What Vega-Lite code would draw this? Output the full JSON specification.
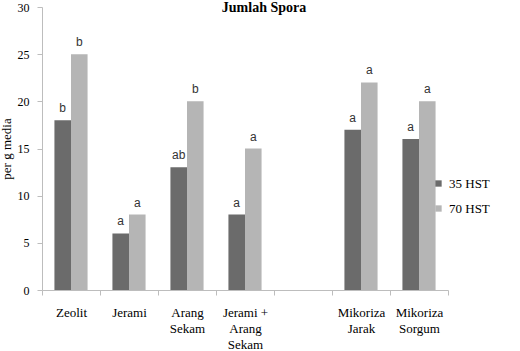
{
  "$schema": "https://vega.github.io/schema/vega-lite/v6.json",
  "width": 406,
  "height": 283,
  "autosize": {"type": "none"},
  "padding": {"left": 42, "top": 7, "right": 72, "bottom": 61},
  "background": "white",
  "config": {"view": {"stroke": null}, "font": "Liberation Serif, Times New Roman, serif"},
  "title": {"text": "Jumlah Spora", "font": "Liberation Serif, Times New Roman, serif", "fontSize": 14, "fontWeight": "bold", "anchor": "middle", "dx": 19, "offset": -14, "color": "#000"},
  "data": {"values": [
    {"k": "Zeolit", "s": "35 HST", "v": 18, "l": "b"},
    {"k": "Zeolit", "s": "70 HST", "v": 25, "l": "b"},
    {"k": "Jerami", "s": "35 HST", "v": 6, "l": "a"},
    {"k": "Jerami", "s": "70 HST", "v": 8, "l": "a"},
    {"k": "Arang Sekam", "s": "35 HST", "v": 13, "l": "ab"},
    {"k": "Arang Sekam", "s": "70 HST", "v": 20, "l": "b"},
    {"k": "Jerami + Arang Sekam", "s": "35 HST", "v": 8, "l": "a"},
    {"k": "Jerami + Arang Sekam", "s": "70 HST", "v": 15, "l": "a"},
    {"k": "Mikoriza Jarak", "s": "35 HST", "v": 17, "l": "a"},
    {"k": "Mikoriza Jarak", "s": "70 HST", "v": 22, "l": "a"},
    {"k": "Mikoriza Sorgum", "s": "35 HST", "v": 16, "l": "a"},
    {"k": "Mikoriza Sorgum", "s": "70 HST", "v": 20, "l": "a"}
  ]},
  "encoding": {
    "x": {"field": "k", "type": "nominal", "sort": null,
      "scale": {"domain": ["Zeolit", "Jerami", "Arang Sekam", "Jerami + Arang Sekam", "gap", "Mikoriza Jarak", "Mikoriza Sorgum"], "paddingInner": 0, "paddingOuter": 0},
      "axis": {"title": null, "labelAngle": 0, "labelExpr": "datum.label == 'gap' ? '' : (datum.label == 'Jerami + Arang Sekam' ? ['Jerami +', 'Arang', 'Sekam'] : split(datum.label, ' '))",
        "labelFont": "Liberation Serif, Times New Roman, serif", "labelFontSize": 13, "labelColor": "#000", "labelPadding": 11, "labelLineHeight": 16, "labelBaseline": "top",
        "tickBand": "extent", "tickSize": 5, "tickColor": "#bdbdbd", "domainColor": "#bdbdbd", "labelLimit": 0}},
    "xOffset": {"field": "s", "type": "nominal", "scale": {"paddingInner": 0, "paddingOuter": 0.75}},
    "y": {"field": "v", "type": "quantitative", "scale": {"domain": [0, 30], "nice": false},
      "axis": {"title": "per g media", "titleFont": "Liberation Serif, Times New Roman, serif", "titleFontSize": 13, "titleFontWeight": "normal", "titleColor": "#000", "titlePadding": 4,
        "values": [0, 5, 10, 15, 20, 25, 30], "grid": false, "tickSize": 5, "tickColor": "#bdbdbd", "domainColor": "#bdbdbd",
        "labelFont": "Liberation Serif, Times New Roman, serif", "labelFontSize": 12, "labelColor": "#000", "labelPadding": 8}}
  },
  "layer": [
    {"mark": {"type": "bar"},
     "encoding": {"color": {"field": "s", "type": "nominal",
       "scale": {"domain": ["35 HST", "70 HST"], "range": ["#6b6b6b", "#b5b5b5"]},
       "legend": {"title": null, "orient": "none", "legendX": 390, "legendY": 170, "symbolType": "square", "symbolSize": 40, "symbolStrokeWidth": 0,
         "labelFont": "Liberation Serif, Times New Roman, serif", "labelFontSize": 13, "labelColor": "#000", "rowPadding": 11, "labelOffset": 4}}}},
    {"mark": {"type": "text", "baseline": "bottom", "dy": -5, "font": "Liberation Sans", "fontSize": 12, "color": "#333"},
     "encoding": {"text": {"field": "l"}}}
  ]
}
